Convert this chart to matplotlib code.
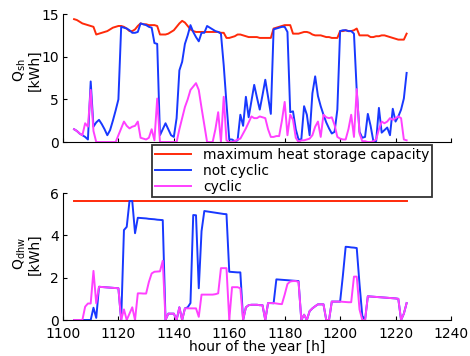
import numpy as np
import matplotlib
matplotlib.use("Agg")
import matplotlib.pyplot as plt

# hourly values, hour 1104 .. 1224
hours = np.arange(1104, 1225)

# space heating [kWh]
sh_capacity = [14.4, 14.3, 14.1, 13.9, 13.8, 13.7, 13.6, 13.5,
               12.6, 12.7, 12.8, 12.9, 13.0, 13.2, 13.4, 13.5,
               13.6, 13.6, 13.5, 13.3, 13.0, 13.0, 13.2, 13.6,
               13.9, 13.8, 13.8, 13.7, 13.7, 13.7, 13.6, 12.6,
               12.6, 12.6, 12.7, 12.9, 13.1, 13.5, 13.9, 14.2,
               14.0, 13.6, 13.2, 13.0, 12.9, 12.9, 12.9, 12.9,
               12.9, 12.9, 12.9, 12.9, 12.9, 12.8, 12.8, 12.2,
               12.2, 12.3, 12.4, 12.6, 12.6, 12.5, 12.4, 12.3,
               12.3, 12.3, 12.3, 12.2, 12.2, 12.2, 12.2, 12.2,
               13.3, 13.4, 13.5, 13.6, 13.7, 13.7, 13.7, 12.7,
               12.7, 12.7, 12.8, 12.9, 12.9, 12.8, 12.6, 12.5,
               12.5, 12.5, 12.4, 12.3, 12.3, 12.2, 12.2, 12.2,
               13.0, 13.0, 13.1, 13.0, 13.0, 13.1, 13.3, 12.5,
               12.5, 12.5, 12.5, 12.3, 12.3, 12.4, 12.4, 12.5,
               12.5, 12.4, 12.3, 12.2, 12.1, 12.0, 12.0, 12.0, 12.7]
sh_not_cyclic = [1.5, 1.3, 1.0, 0.8, 0.6, 0.3, 7.1, 1.8,
                 2.3, 2.6, 2.1, 1.5, 0.8, 1.4, 2.5, 3.7,
                 5.0, 13.5, 13.4, 13.3, 13.1, 12.8, 12.8, 12.9,
                 13.9, 13.8, 13.7, 13.5, 13.4, 11.6, 11.5, 0.8,
                 1.5, 2.2, 1.5, 0.8, 0.6, 2.8, 8.4, 9.4,
                 11.5, 12.5, 13.7, 12.9, 12.3, 11.8, 12.8, 12.8,
                 13.6, 13.4, 13.2, 13.0, 12.9, 12.7, 9.0, 4.5,
                 0.3, 0.3, 0.1, 0.2, 3.2, 1.9, 5.3, 2.9,
                 4.8, 6.7, 5.2, 3.8, 5.5, 7.3, 5.3, 3.3,
                 13.2, 13.3, 13.4, 13.5, 13.5, 12.9, 3.5, 3.6,
                 1.5, 0.3, 0.3, 4.2, 3.2, 0.8, 5.7, 7.7,
                 5.4, 4.2, 3.2, 2.3, 1.6, 1.0, 1.2, 3.8,
                 13.0, 13.1, 13.1, 13.0, 13.0, 12.7, 6.0, 1.2,
                 0.5, 0.6, 3.3, 1.9, 0.1, 0.1, 4.0, 1.1,
                 1.4, 1.7, 0.8, 3.9, 2.4, 3.0, 3.8, 5.1, 8.1]
sh_cyclic = [1.5, 1.3, 1.0, 0.8, 2.2, 1.8, 6.1, 1.3,
             0.0, 0.0, 0.0, 0.0, 0.0, 0.0, 0.0, 0.0,
             0.8, 1.6, 2.4, 1.9, 1.6, 1.8, 1.9, 2.4,
             0.5, 0.4, 0.3, 0.5, 1.5, 0.2, 5.1, 0.0,
             0.0, 0.0, 0.0, 0.0, 0.0, 0.0, 1.5, 2.8,
             4.1, 5.0, 6.1, 6.5, 6.9, 6.1, 4.0, 2.0,
             0.0, 0.0, 0.0, 1.5, 3.5, 0.0, 5.3, 0.2,
             0.0, 0.0, 0.1, 0.3, 0.4, 1.0, 1.6, 2.3,
             3.0, 2.8, 2.8, 3.0, 2.9, 2.8, 1.5, 0.6,
             0.6, 0.7, 0.7, 2.5, 4.7, 0.8, 3.2, 2.6,
             0.5, 0.0, 0.2, 0.2, 0.3, 0.4, 0.8, 1.8,
             2.4, 0.6, 3.2, 2.9, 2.8, 2.9, 2.0, 0.6,
             0.4, 0.3, 0.3, 1.5, 3.2, 0.6, 6.2, 1.0,
             0.1, 0.1, 0.0, 0.0, 0.1, 0.3, 1.5, 2.4,
             2.2, 2.4, 2.8, 2.6, 2.8, 3.0, 2.8, 0.3, 0.2]

# domestic hot water [kWh]
dhw_capacity = [5.6, 5.6]
dhw_not_cyclic = [0.0, 0.0, 0.0, 0.0, 0.0, 0.0, 0.0, 0.58,
                  0.1, 1.57, 1.56, 1.55, 1.54, 1.53, 1.52, 1.51,
                  1.50, 0.0, 4.25, 4.4, 5.62, 5.62, 4.1, 4.83,
                  4.82, 4.81, 4.8, 4.78, 4.77, 4.76, 4.74, 4.73,
                  4.72, 0.0, 0.3, 0.3, 0.3, 0.0, 0.6, 0.0,
                  0.55, 0.6, 0.8, 4.96, 4.95, 1.5, 4.2, 5.15,
                  5.13, 5.11, 5.09, 5.07, 5.05, 5.03, 5.01, 5.0,
                  2.28, 2.27, 2.26, 2.25, 2.25, 0.0, 0.6, 0.7,
                  0.72, 0.72, 0.72, 0.7, 0.7, 0.0, 0.8, 0.8,
                  0.79, 1.92, 1.91, 1.9, 1.89, 1.88, 1.87, 1.86,
                  1.85, 1.84, 0.0, 0.25, 0.0, 0.42, 0.55, 0.65,
                  0.74, 0.74, 0.74, 0.0, 0.0, 0.87, 0.87, 0.87,
                  0.87, 2.1, 3.46, 3.45, 3.43, 3.42, 3.4, 1.7,
                  0.2, 0.0, 1.12, 1.11, 1.1, 1.09, 1.08, 1.07,
                  1.06, 1.05, 1.04, 1.03, 1.02, 1.0, 0.0, 0.3, 0.8]
dhw_cyclic = [0.0, 0.0, 0.0, 0.0, 0.63, 0.78, 0.78, 2.32,
              0.79, 1.57, 1.56, 1.55, 1.54, 1.53, 1.52, 1.51,
              1.50, 0.0, 0.5, 0.0, 0.3, 0.6, 0.0, 1.26,
              1.26, 1.25, 1.25, 1.8, 2.2, 2.28, 2.29, 2.3,
              2.8, 0.0, 0.3, 0.3, 0.3, 0.0, 0.6, 0.0,
              0.55, 0.55, 0.55, 0.55, 0.55, 0.15, 1.2, 1.2,
              1.2, 1.2, 1.2, 1.22, 1.26, 2.45, 2.45, 2.45,
              0.0, 1.55, 1.55, 1.55, 1.5, 0.0, 0.6, 0.7,
              0.72, 0.72, 0.72, 0.7, 0.7, 0.0, 0.8, 0.8,
              0.8, 0.78, 0.76, 0.75, 1.2, 1.7, 1.82, 1.84,
              1.84, 1.8, 0.0, 0.25, 0.0, 0.42, 0.55, 0.65,
              0.74, 0.74, 0.74, 0.0, 0.0, 0.87, 0.87, 0.87,
              0.87, 0.86, 0.85, 0.84, 0.84, 2.05, 2.05, 0.5,
              0.0, 0.0, 1.12, 1.11, 1.1, 1.09, 1.08, 1.07,
              1.06, 1.05, 1.04, 1.03, 1.02, 1.0, 0.0, 0.3, 0.8]

assert len(sh_capacity) == len(hours)
assert len(sh_not_cyclic) == len(hours)
assert len(sh_cyclic) == len(hours)
assert len(dhw_not_cyclic) == len(hours)
assert len(dhw_cyclic) == len(hours)

c_red = '#ff2a0a'
c_blue = '#1838ff'
c_mag = '#ff40ff'
lw = 1.4

plt.rcParams['font.family'] = 'DejaVu Sans'
plt.rcParams['font.size'] = 10

fig = plt.figure(figsize=(4.7, 3.56), dpi=100)
ax1 = fig.add_axes([0.134, 0.601, 0.8255, 0.3596])
ax2 = fig.add_axes([0.134, 0.1011, 0.8255, 0.3567])

l1, = ax1.plot(hours, sh_capacity, color=c_red, lw=lw)
l2, = ax1.plot(hours, sh_not_cyclic, color=c_blue, lw=lw)
l3, = ax1.plot(hours, sh_cyclic, color=c_mag, lw=lw)

ax2.plot([hours[0], hours[-1]], dhw_capacity, color=c_red, lw=lw)
ax2.plot(hours, dhw_not_cyclic, color=c_blue, lw=lw)
ax2.plot(hours, dhw_cyclic, color=c_mag, lw=lw)

for ax in (ax1, ax2):
    ax.set_xlim(1100, 1240)
    ax.set_xticks(np.arange(1100, 1241, 20))
    ax.spines['top'].set_visible(False)
    ax.spines['right'].set_visible(False)
    ax.tick_params(direction='in', length=3, labelsize=10)
    ax.tick_params(axis='x', pad=5)
    ax.tick_params(axis='y', pad=3)

ax1.set_ylim(0, 15)
ax1.set_yticks([0, 5, 10, 15])
ax1.tick_params(labelbottom=False)
ax1.set_ylabel('Q$_{\\mathrm{sh}}$\n[kWh]', fontsize=10, linespacing=1.0)
ax1.yaxis.set_label_coords(-0.055, 0.56)

ax2.set_ylim(0, 6)
ax2.set_yticks([0, 2, 4, 6])
ax2.set_ylabel('Q$_{\\mathrm{dhw}}$\n[kWh]', fontsize=10, linespacing=1.0)
ax2.yaxis.set_label_coords(-0.055, 0.52)
ax2.set_xlabel('hour of the year [h]', fontsize=10, labelpad=-1)

leg = fig.legend([l1, l2, l3], ['maximum heat storage capacity', 'not cyclic', 'cyclic'],
                 loc='upper left', bbox_to_anchor=(0.323, 0.593), fontsize=10,
                 frameon=True, fancybox=False, handlelength=2.6, borderpad=0.2,
                 labelspacing=0.15, handletextpad=0.9, borderaxespad=0)
leg.get_frame().set_edgecolor('black')
leg.get_frame().set_linewidth(1.3)

fig.savefig('out.png', dpi=100)
